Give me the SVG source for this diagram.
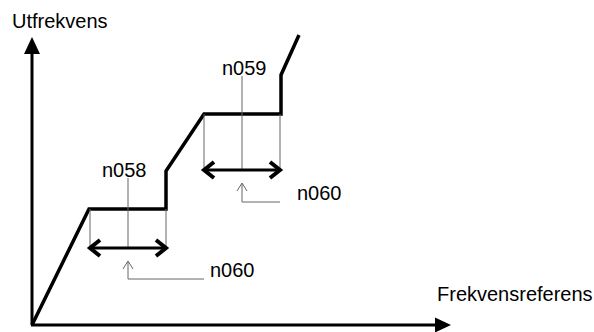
<svg xmlns="http://www.w3.org/2000/svg" width="594" height="332" viewBox="0 0 594 332">
<style>
.lbl{font-family:"Liberation Sans",Arial,sans-serif;font-size:20px;fill:#000}
.axis{stroke:#000;stroke-width:3;fill:none}
.curve{stroke:#000;stroke-width:3.5;fill:none;stroke-linejoin:miter}
.thin{stroke:#666;stroke-width:1;fill:none}
.dim{stroke:#000;stroke-width:3;fill:none}
.chev{stroke:#000;stroke-width:4;fill:none;stroke-linecap:butt;stroke-linejoin:miter}
</style>
<rect width="594" height="332" fill="#fff"/>
<g id="axes">
  <line class="axis" x1="32" y1="325" x2="32" y2="50"/>
  <polygon points="32,37 24,54 40,54" fill="#000"/>
  <line class="axis" x1="31" y1="325" x2="440" y2="325"/>
  <polygon points="451,325 435,317.5 435,332.5" fill="#000"/>
  <text class="lbl" x="12" y="28">Utfrekvens</text>
  <text class="lbl" x="437" y="301">Frekvensreferens</text>
</g>
<g id="curve">
  <path class="curve" d="M32,325 L89,209 L166,209 L166,171 L204,114 L281,114 L281,75 L299,35"/>
</g>
<g id="connectors">
  <!-- lower band n058 -->
  <line class="thin" x1="90" y1="209" x2="90" y2="248"/>
  <line class="thin" x1="166" y1="209" x2="166" y2="248"/>
  <line class="thin" x1="128" y1="178" x2="128" y2="248"/>
  <line class="dim" x1="90" y1="248" x2="165" y2="248"/>
  <polyline class="chev" points="100,240 90,248 100,256"/>
  <polyline class="chev" points="156,240 166,248 156,256"/>
  <polyline class="thin" points="128,262 128,279 204,279"/>
  <polyline class="thin" points="123,269 128,261 133,269"/>
  <!-- upper band n059 -->
  <line class="thin" x1="204" y1="114" x2="204" y2="170"/>
  <line class="thin" x1="280" y1="114" x2="280" y2="170"/>
  <line class="thin" x1="242" y1="76" x2="242" y2="170"/>
  <line class="dim" x1="205" y1="170" x2="279" y2="170"/>
  <polyline class="chev" points="214,162 204,170 214,178"/>
  <polyline class="chev" points="270,162 280,170 270,178"/>
  <polyline class="thin" points="242,184 242,202 280,202"/>
  <polyline class="thin" points="237,191 242,183 247,191"/>
</g>
<g id="n058"><text class="lbl" x="102" y="177">n058</text></g>
<g id="n059"><text class="lbl" x="222" y="75">n059</text></g>
<g id="n060a"><text class="lbl" x="297" y="200">n060</text></g>
<g id="n060b"><text class="lbl" x="210" y="277">n060</text></g>
</svg>
